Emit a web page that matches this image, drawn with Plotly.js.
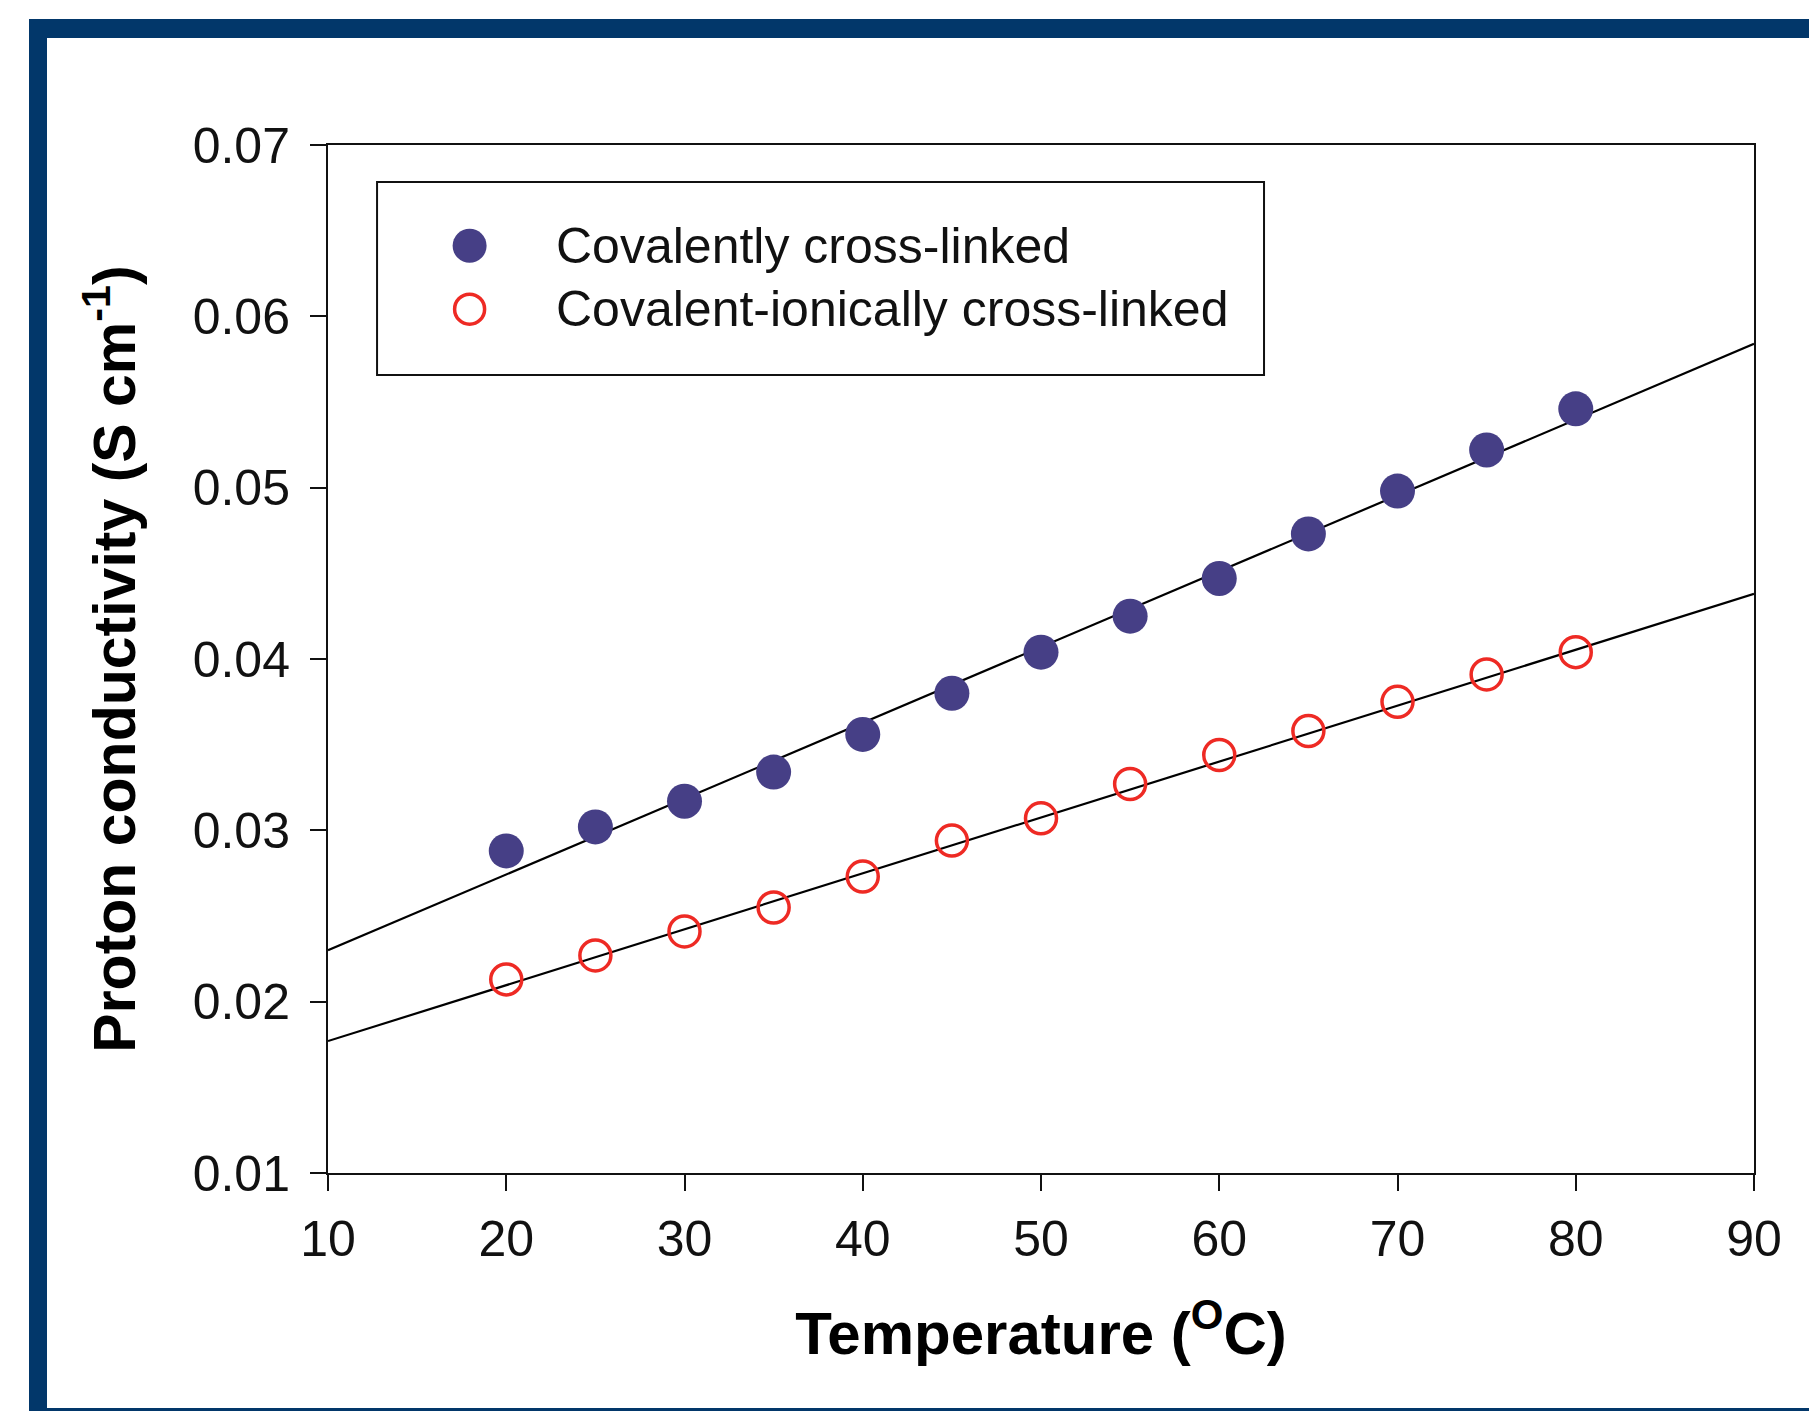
<!DOCTYPE html>
<html>
<head>
<meta charset="utf-8">
<script src="https://cdn.plot.ly/plotly-3.0.1.min.js"></script>
<style>
  html, body { margin: 0; padding: 0; background: #ffffff; overflow: hidden; }
  #chart { position: absolute; left: 0; top: 0; width: 1809px; height: 1411px; }
  #frame { position: absolute; left: 29px; top: 19px; width: 1800px; height: 1408px;
           box-sizing: border-box; border-left: 18px solid #02376a; border-top: 19px solid #02376a;
           border-bottom: 19px solid #02376a; pointer-events: none; z-index: 5; }
</style>
</head>
<body>
<div id="chart"></div>
<div id="frame"></div>
<script>
// ---- data ----
const temperature = [20, 25, 30, 35, 40, 45, 50, 55, 60, 65, 70, 75, 80];
const covalent = [0.0288, 0.0302, 0.0317, 0.0334, 0.0356, 0.0380, 0.0404, 0.0425, 0.0447, 0.0473, 0.0498, 0.0522, 0.0546];
const covalentIonic = [0.0213, 0.0227, 0.0241, 0.0255, 0.0273, 0.0294, 0.0307, 0.0327, 0.0344, 0.0358, 0.0375, 0.0391, 0.0404];
const fitX = [10, 90];
const fitCovalent = [0.0230, 0.0584];
const fitCovalentIonic = [0.0177, 0.0438];
const seriesNames = ["Covalently cross-linked", "Covalent-ionically cross-linked"];
const xTicks = [10, 20, 30, 40, 50, 60, 70, 80, 90];
const yTicks = [0.01, 0.02, 0.03, 0.04, 0.05, 0.06, 0.07];

const FONT = "Liberation Sans, Arial, Helvetica, sans-serif";
const blue = "#463f86";
const red = "#ee2a24";

const traces = [
  { x: fitX, y: fitCovalent, mode: "lines", line: { color: "#000", width: 2.2 }, showlegend: false, hoverinfo: "skip" },
  { x: fitX, y: fitCovalentIonic, mode: "lines", line: { color: "#000", width: 2.2 }, showlegend: false, hoverinfo: "skip" },
  { x: temperature, y: covalent, name: seriesNames[0], mode: "markers",
    marker: { symbol: "circle", size: 35, color: blue, line: { width: 0 } }, showlegend: false },
  { x: temperature, y: covalentIonic, name: seriesNames[1], mode: "markers",
    marker: { symbol: "circle-open", size: 31, color: red, line: { width: 3.5, color: red } }, showlegend: false }
];

const axisCommon = {
  showline: true, linecolor: "#111", linewidth: 2, mirror: true,
  ticks: "outside", ticklen: 16, tickwidth: 2, tickcolor: "#111",
  showgrid: false, zeroline: false,
  tickfont: { family: FONT, size: 50, color: "#111" },
  automargin: false
};

const layout = {
  width: 1809, height: 1411,
  margin: { l: 328, r: 55, t: 145, b: 238 },
  paper_bgcolor: "rgba(0,0,0,0)", plot_bgcolor: "rgba(0,0,0,0)",
  showlegend: false,
  xaxis: Object.assign({}, axisCommon, {
    range: [10, 90], tickvals: xTicks, ticktext: xTicks.map(String),
    ticklabelstandoff: 5,
    title: { text: "Temperature (<sup>O</sup>C)", font: { family: FONT, size: 60, color: "#000", weight: "bold" }, standoff: 46 }
  }),
  yaxis: Object.assign({}, axisCommon, {
    range: [0.01, 0.07], tickvals: yTicks, ticktext: yTicks.map(v => v.toFixed(2)),
    ticklabelstandoff: 10,
    title: { text: "Proton conductivity (S cm<sup>-1</sup>)", font: { family: FONT, size: 59, color: "#000", weight: "bold" }, standoff: 38 }
  }),
  shapes: [
    { type: "rect", xref: "paper", yref: "paper", x0: 0.0344, x1: 0.6564, y0: 0.7763, y1: 0.964,
      line: { color: "#111", width: 2 }, fillcolor: "rgba(0,0,0,0)" },
    { type: "circle", xref: "paper", yref: "paper", xsizemode: "pixel", ysizemode: "pixel",
      xanchor: 0.0993, yanchor: 0.902, x0: -17, x1: 17, y0: -17, y1: 17,
      fillcolor: blue, line: { width: 0 } },
    { type: "circle", xref: "paper", yref: "paper", xsizemode: "pixel", ysizemode: "pixel",
      xanchor: 0.0993, yanchor: 0.8403, x0: -15, x1: 15, y0: -15, y1: 15,
      fillcolor: "rgba(0,0,0,0)", line: { width: 3.5, color: red } }
  ],
  annotations: [
    { xref: "paper", yref: "paper", x: 0.1585, y: 0.902, xanchor: "left", yanchor: "middle",
      text: seriesNames[0], showarrow: false, font: { family: FONT, size: 50, color: "#111" } },
    { xref: "paper", yref: "paper", x: 0.1585, y: 0.8403, xanchor: "left", yanchor: "middle",
      text: seriesNames[1], showarrow: false, font: { family: FONT, size: 50, color: "#111" } }
  ]
};

Plotly.newPlot("chart", traces, layout, { staticPlot: true, displayModeBar: false });
</script>
</body>
</html>
